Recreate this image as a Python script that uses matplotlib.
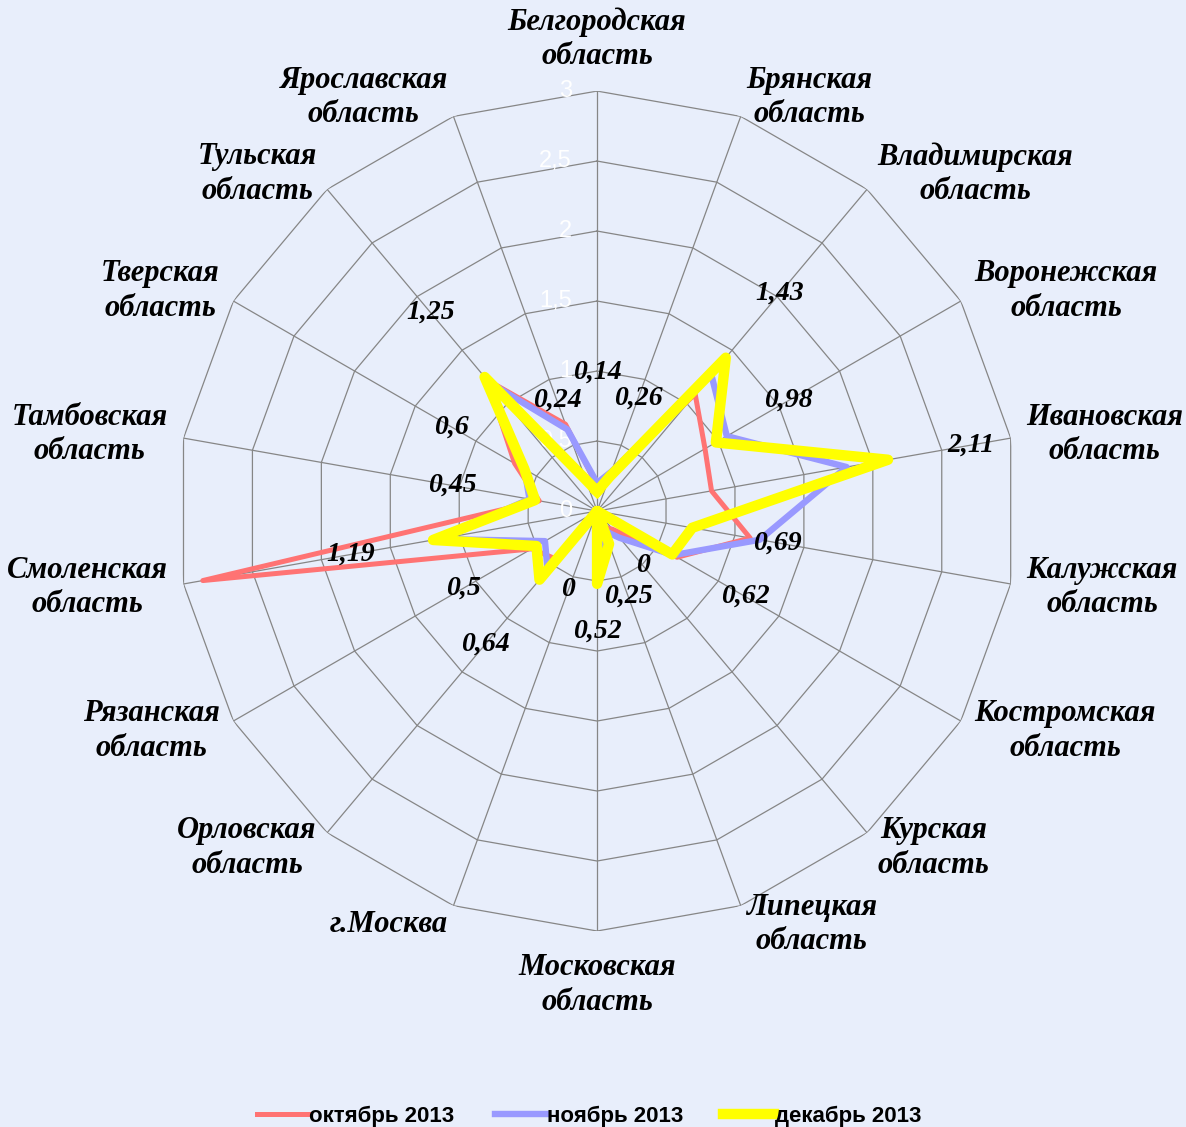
import numpy as np
import matplotlib
matplotlib.use("Agg")
import matplotlib.pyplot as plt

# Regions (clockwise from the top)
regions = ["Белгородская\nобласть", "Брянская\nобласть", "Владимирская\nобласть",
           "Воронежская\nобласть", "Ивановская\nобласть", "Калужская\nобласть",
           "Костромская\nобласть", "Курская\nобласть", "Липецкая\nобласть",
           "Московская\nобласть", "г.Москва", "Орловская\nобласть",
           "Рязанская\nобласть", "Смоленская\nобласть", "Тамбовская\nобласть",
           "Тверская\nобласть", "Тульская\nобласть", "Ярославская\nобласть"]

oct_2013 = [0.18, 0.30, 1.09, 0.89, 0.83, 1.11, 0.66, 0.17, 0.12, 0.45, 0.0, 0.45,
            0.54, 2.86, 0.42, 0.68, 1.22, 0.66]
nov_2013 = [0.20, 0.30, 1.27, 1.07, 1.81, 1.18, 0.63, 0.25, 0.15, 0.50, 0.0, 0.55,
            0.43, 1.15, 0.49, 0.60, 1.20, 0.62]
dec_2013 = [0.14, 0.26, 1.43, 0.98, 2.11, 0.69, 0.62, 0.0, 0.25, 0.52, 0.0, 0.64,
            0.50, 1.19, 0.45, 0.60, 1.25, 0.24]

series_names = ["октябрь 2013", "ноябрь 2013", "декабрь 2013"]
r_ticks = [0, 0.5, 1, 1.5, 2, 2.5, 3]

# radial distance of each december label from its point (axis units)
label_shift = [0.85, 0.6, 0.6, 0.6, 0.6, 0.62, 0.6, 0.51, 0.4, 0.34, 0.6, 0.6,
               0.6, 0.6, 0.6, 0.6, 0.6, 0.6]

bg = "#E8EEFB"
grid_col = "#868686"
colors = ["#FF7373", "#9999FF", "#FFFF00"]
widths = [3.6, 4.6, 7.5]

n = len(regions)
theta = np.arange(n) * 2 * np.pi / n
theta_closed = np.append(theta, theta[0])

fig = plt.figure(figsize=(11.86, 11.27), dpi=100, facecolor=bg)
ax = fig.add_axes([0.1493, 0.1739, 0.7083, 0.7453], projection="polar")
ax.set_facecolor("none")
ax.set_theta_zero_location("N")
ax.set_theta_direction(-1)
ax.set_ylim(0, 3)
ax.grid(False)
ax.spines["polar"].set_visible(False)
ax.set_xticks([])
ax.set_yticks([])

# polygon grid
for r in r_ticks[1:]:
    ax.plot(theta_closed, [r] * (n + 1), color=grid_col, lw=0.9, zorder=1)
for t in theta:
    ax.plot([t, t], [0, 3], color=grid_col, lw=0.9, zorder=1)

for r in r_ticks:
    ax.annotate(f"{r:g}".replace(".", ","), xy=(0, r), xytext=(-25, 0),
                textcoords="offset pixels", ha="right", va="center",
                color="white", fontsize=17, family="Liberation Sans", zorder=2)

# series
lines = []
for vals, c, w, name in zip([oct_2013, nov_2013, dec_2013], colors, widths, series_names):
    v = np.append(vals, vals[0])
    ln, = ax.plot(theta_closed, v, color=c, lw=w, label=name, zorder=3,
                  solid_joinstyle="round")
    lines.append(ln)

# december value labels
for t, v, s in zip(theta, dec_2013, label_shift):
    ax.text(t, v + s, f"{v:g}".replace(".", ","), ha="center", va="center",
            fontsize=20, family="Liberation Serif", weight="bold", style="italic",
            zorder=4)

# category labels around the chart
for t, name in zip(theta, regions):
    s, c = np.sin(t), np.cos(t)
    if abs(s) < 0.1:
        ha = "center"
        va = "bottom" if c > 0 else "top"
        off = (0, 20 if c > 0 else -22)
    else:
        ha = "left" if s > 0 else "right"
        va = "center"
        off = (16 * s, 20 * c)
    ax.annotate(name, xy=(t, 3), xytext=off, textcoords="offset pixels",
                ha=ha, va=va, multialignment="center", fontsize=22,
                family="Liberation Serif", weight="bold", style="italic",
                linespacing=1.25, annotation_clip=False)

fig.legend(handles=lines, loc="center", bbox_to_anchor=(0.497, 1 - 1116 / 1127),
           ncol=3, frameon=False, handlelength=2.3, handletextpad=0.05,
           columnspacing=1.8, prop={"family": "Liberation Sans", "weight": "bold", "size": 16})

fig.savefig("out.png", dpi=100, facecolor=bg)
